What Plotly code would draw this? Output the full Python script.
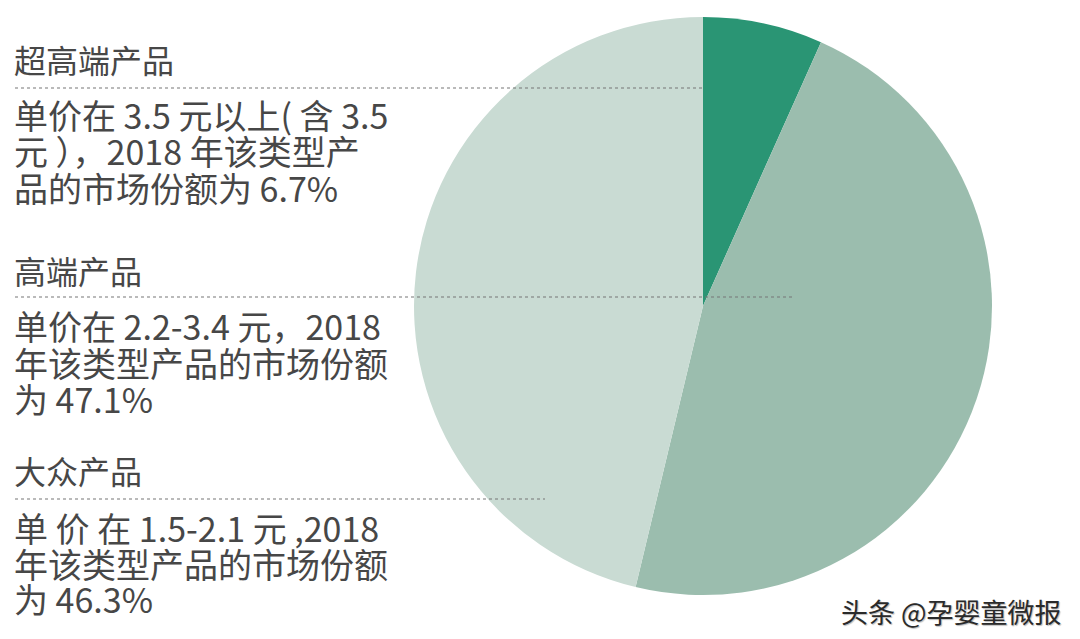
import plotly.graph_objects as go

# ---- data ----
categories = ["超高端产品", "高端产品", "大众产品"]
shares = [6.7, 47.1, 46.3]
colors = ["#2a9574", "#9bbdae", "#c9dbd3"]
desc_lines = [
    ["单价在 3.5 元以上( 含 3.5", "元 ），2018 年该类型产", "品的市场份额为 6.7%"],
    ["单价在 2.2-3.4 元，2018", "年该类型产品的市场份额", "为 47.1%"],
    ["单 价 在 1.5-2.1 元 ,2018", "年该类型产品的市场份额", "为 46.3%"],
]
watermark = "头条 @孕婴童微报"

# ---- layout params (pixels, from top) ----
W, H = 1080, 639
cx, cy, r = 703, 306, 289
title_y = [59, 270, 470]
rule_y = [88, 297, 499]
rule_x_end = [703, 792, 545]
body_y = [[115, 151, 187], [325, 362, 398], [527, 563, 598]]
text_x = 12
font_family = "Noto Sans CJK SC"
text_color = "#474747"

def py(y):
    return 1 - y / H

fig = go.Figure()
fig.add_trace(go.Pie(
    labels=categories,
    values=shares,
    sort=False,
    direction="clockwise",
    rotation=0,
    marker=dict(colors=colors, line=dict(width=0)),
    textinfo="none",
    hoverinfo="label+percent",
    showlegend=False,
    domain=dict(x=[(cx - r) / W, (cx + r) / W], y=[1 - (cy + r) / H, 1 - (cy - r) / H]),
))

shapes = []
annotations = []
for i, cat in enumerate(categories):
    annotations.append(dict(
        x=text_x / W, y=py(title_y[i]), xref="paper", yref="paper",
        text=cat, showarrow=False, xanchor="left", yanchor="middle",
        font=dict(family=font_family, size=32, color=text_color),
    ))
    shapes.append(dict(
        type="line", xref="paper", yref="paper",
        x0=15 / W, x1=rule_x_end[i] / W, y0=py(rule_y[i]), y1=py(rule_y[i]),
        line=dict(color="#777777", width=1.2, dash="dot"),
    ))
    for j, line in enumerate(desc_lines[i]):
        annotations.append(dict(
            x=text_x / W, y=py(body_y[i][j]), xref="paper", yref="paper",
            text=line, showarrow=False, xanchor="left", yanchor="middle",
            font=dict(family=font_family, size=34, color=text_color),
        ))

annotations.append(dict(
    x=1064 / W, y=py(611), xref="paper", yref="paper",
    text=watermark, showarrow=False, xanchor="right", yanchor="middle",
    font=dict(family=font_family, size=27, color="#2a2a2a",
              shadow="1px 1px 1px #bbbbbb"),
))

fig.update_layout(
    width=W, height=H,
    margin=dict(l=0, r=0, t=0, b=0),
    paper_bgcolor="white", plot_bgcolor="white",
    shapes=shapes, annotations=annotations,
)

fig.write_html("out.html", config={"displayModeBar": False},
               post_script="document.body.style.margin='0';")
